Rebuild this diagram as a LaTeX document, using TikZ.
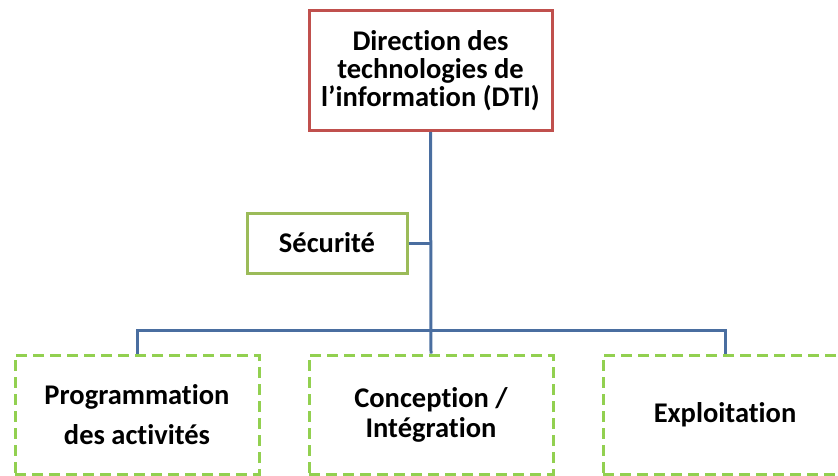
\documentclass[tikz,border=0pt]{standalone}
\usepackage{fontspec}
\setmainfont[Ligatures={NoCommon}]{Carlito}
\usepackage{tikz}
\definecolor{boxred}{RGB}{192, 80, 77}
\definecolor{linkblue}{RGB}{74, 110, 160}
\definecolor{boxgreen}{RGB}{155, 187, 89}
\definecolor{dashgreen}{RGB}{146, 208, 80}

\tikzset{
    unit/.style={align=center, inner sep=0pt, font=\fontsize{28.5}{28}\selectfont\bfseries},
    headbox/.style={unit, draw=boxred, line width=3pt, minimum width=243pt, minimum height=120pt},
    staffbox/.style={unit, draw=boxgreen, line width=3pt, minimum width=160pt, minimum height=60pt},
    deptbox/.style={unit, draw=dashgreen, line width=3pt, dash pattern=on 11pt off 6pt,
        minimum width=244pt, minimum height=119pt},
    link/.style={draw=linkblue, line width=3pt}
}

\begin{document}
\begin{tikzpicture}[x=1pt, y=-1pt]
        \useasboundingbox (0,0) rectangle (838,476);

        % Head of the chart
        \node[headbox] (dti) at (430.5,70.5)
            {Direction des\\technologies de\\l’information (DTI)};

        % Staff unit on the side
        \node[staffbox] (secu) at (327,243) {Sécurité};

        % Departments
        \node[deptbox, font=\fontsize{28.5}{40}\selectfont\bfseries] (prog) at (137,414.5)
            {Programmation\\des activités};
        \node[deptbox, font=\fontsize{28.5}{30}\selectfont\bfseries] (conc) at (431,414.5)
            {Conception /\\Intégration};
        \node[deptbox] (expl) at (725,414.5) {Exploitation};

        % Connectors
        \coordinate (bus) at (431,330);
        \draw[link] (dti.south) -- (conc.north);
        \draw[link] (secu.east) -- (secu.east -| dti.south);
        \draw[link] (prog.north) |- (bus) -| (expl.north);
    \end{tikzpicture}
\end{document}
